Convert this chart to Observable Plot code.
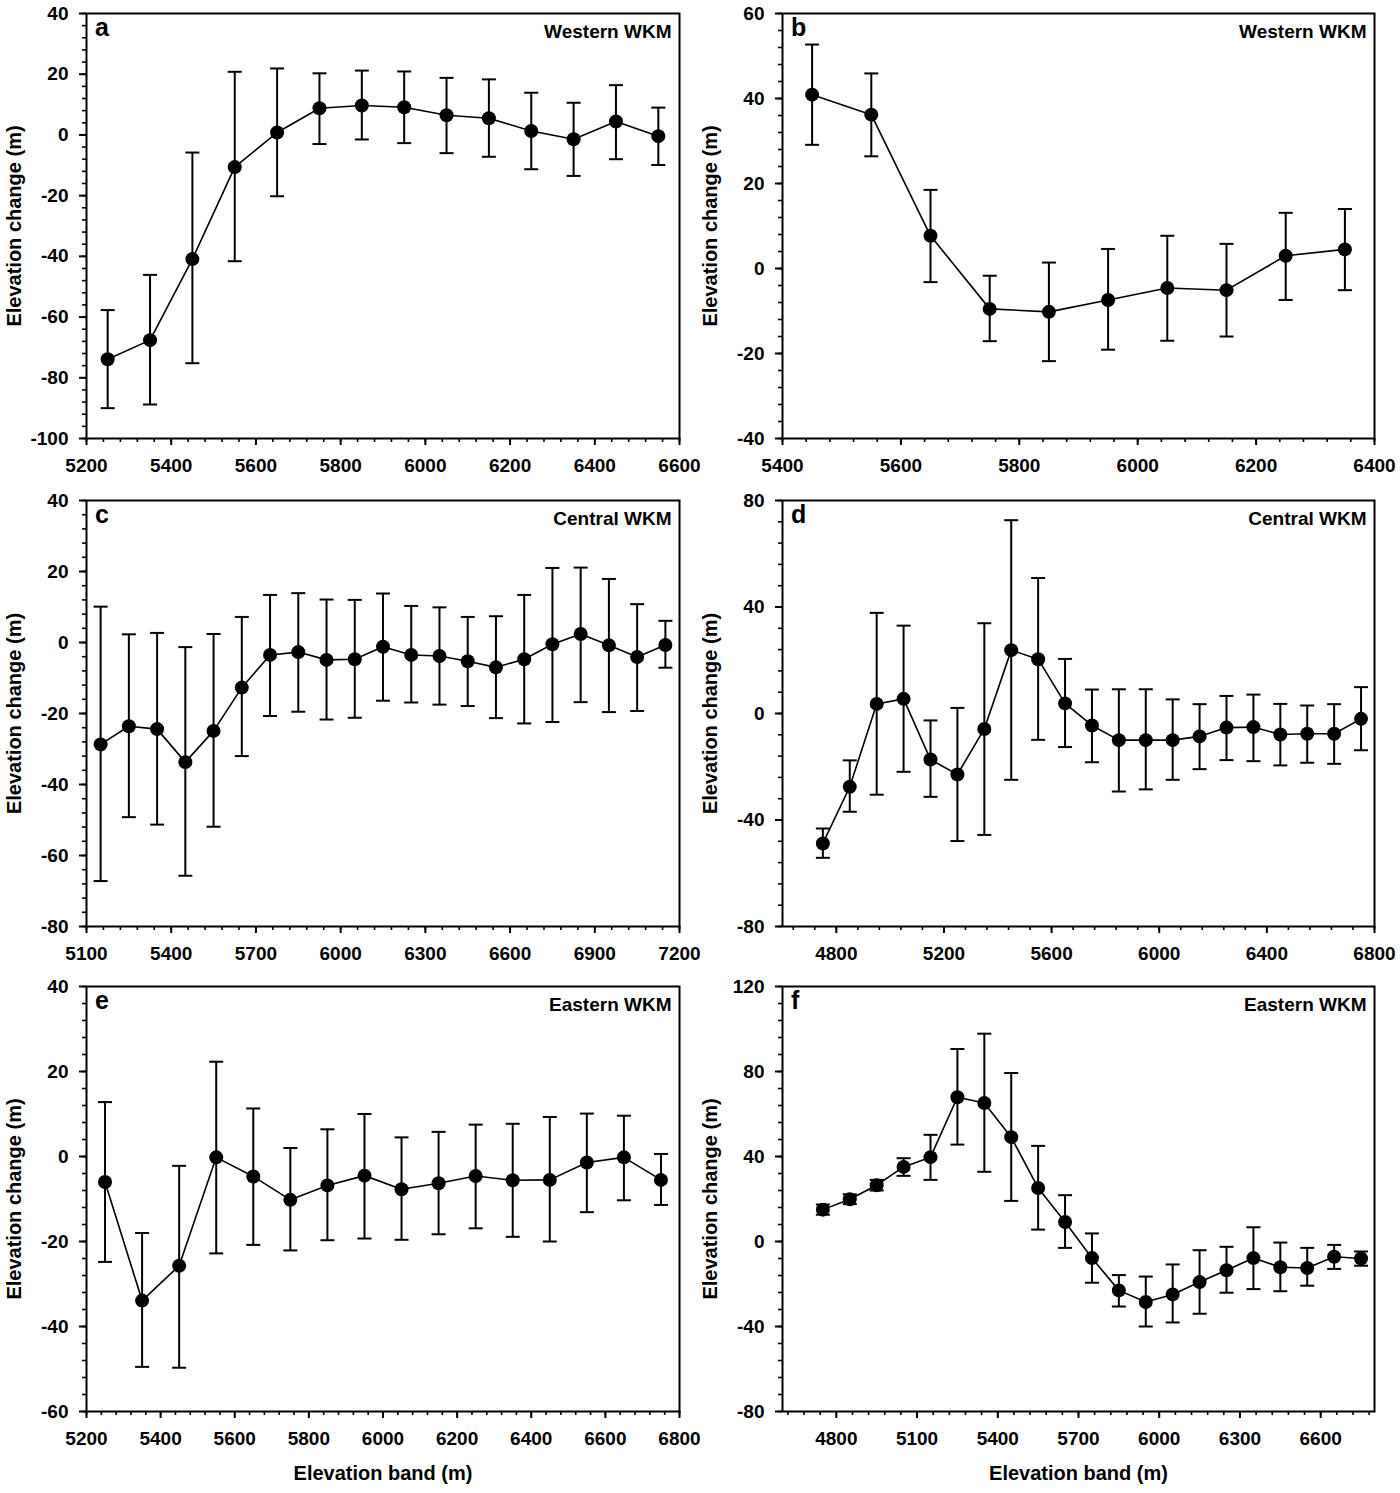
<!DOCTYPE html>
<html>
<head>
<meta charset="utf-8">
<script src="https://cdn.jsdelivr.net/npm/d3@7"></script>
<script src="https://cdn.jsdelivr.net/npm/@observablehq/plot@0.6"></script>
<style>
  body { margin: 0; background: #fff; }
  #fig { position: relative; width: 1400px; height: 1493px; background: #fff; overflow: hidden; }
  .panel { position: absolute; width: 700px; }
  .panel svg { overflow: visible; background: transparent !important; }
</style>
</head>
<body>
<div id="fig"></div>
<script>
// ---------- Data ----------
// Panel a – Western WKM
const bandsA  = [5250,5350,5450,5550,5650,5750,5850,5950,6050,6150,6250,6350,6450,6550];
const changeA = [-73.9,-67.6,-40.9,-10.6,0.8,8.8,9.7,9.1,6.5,5.5,1.3,-1.4,4.4,-0.4];
const upperA  = [-57.7,-46.1,-5.8,20.8,21.9,20.3,21.2,20.9,18.8,18.3,13.9,10.6,16.4,9.0];
const lowerA  = [-90.0,-88.8,-75.2,-41.6,-20.2,-3.0,-1.5,-2.7,-6.0,-7.2,-11.3,-13.5,-8.0,-9.9];

// Panel b – Western WKM
const bandsB  = [5450,5550,5650,5750,5850,5950,6050,6150,6250,6350];
const changeB = [40.9,36.2,7.7,-9.5,-10.2,-7.4,-4.6,-5.1,3.0,4.5];
const upperB  = [52.7,45.9,18.5,-1.7,1.4,4.6,7.7,5.8,13.1,14.0];
const lowerB  = [29.1,26.4,-3.2,-17.1,-21.8,-19.1,-17.0,-16.0,-7.4,-5.1];

// Panel c – Central WKM
const bandsC  = [5150,5250,5350,5450,5550,5650,5750,5850,5950,6050,6150,6250,6350,6450,6550,6650,6750,6850,6950,7050,7150];
const changeC = [-28.7,-23.6,-24.4,-33.7,-24.9,-12.7,-3.5,-2.7,-4.9,-4.7,-1.2,-3.5,-3.8,-5.3,-7.0,-4.7,-0.5,2.4,-0.8,-4.1,-0.7];
const upperC  = [10.1,2.3,2.7,-1.3,2.4,7.2,13.4,13.9,12.1,12.0,13.8,10.3,9.9,7.2,7.4,13.4,21.0,21.1,17.9,10.8,6.1];
const lowerC  = [-67.2,-49.2,-51.3,-65.7,-51.9,-32.0,-20.7,-19.5,-21.7,-21.2,-16.4,-16.9,-17.5,-17.9,-21.3,-22.8,-22.4,-16.8,-19.6,-19.3,-7.1];

// Panel d – Central WKM
const bandsD  = [4750,4850,4950,5050,5150,5250,5350,5450,5550,5650,5750,5850,5950,6050,6150,6250,6350,6450,6550,6650,6750];
const changeD = [-48.8,-27.5,3.6,5.5,-17.3,-22.9,-5.8,23.8,20.4,3.8,-4.5,-10.0,-10.0,-10.0,-8.6,-5.3,-5.1,-7.9,-7.6,-7.6,-2.0];
const upperD  = [-43.2,-17.6,37.8,33.0,-2.6,2.1,33.9,72.6,50.9,20.5,9.0,9.1,9.1,5.3,3.5,6.6,7.1,3.6,3.0,3.5,9.9];
const lowerD  = [-54.2,-36.9,-30.5,-21.9,-31.3,-47.9,-45.6,-24.9,-9.9,-12.6,-18.3,-29.3,-28.5,-24.9,-20.9,-17.5,-17.9,-19.5,-18.5,-18.9,-13.8];

// Panel e – Eastern WKM
const bandsE  = [5250,5350,5450,5550,5650,5750,5850,5950,6050,6150,6250,6350,6450,6550,6650,6750];
const changeE = [-6.0,-33.9,-25.7,-0.2,-4.7,-10.2,-6.8,-4.5,-7.7,-6.3,-4.6,-5.6,-5.5,-1.4,-0.2,-5.5];
const upperE  = [12.8,-18.0,-2.2,22.3,11.3,2.0,6.4,10.0,4.5,5.8,7.5,7.7,9.3,10.1,9.6,0.6];
const lowerE  = [-24.8,-49.5,-49.7,-22.8,-20.8,-22.1,-19.7,-19.3,-19.6,-18.3,-16.9,-18.9,-20.0,-13.1,-10.3,-11.4];

// Panel f – Eastern WKM
const bandsF  = [4750,4850,4950,5050,5150,5250,5350,5450,5550,5650,5750,5850,5950,6050,6150,6250,6350,6450,6550,6650,6750];
const changeF = [15.0,19.9,26.5,35.1,39.7,67.9,65.2,49.1,25.2,9.2,-7.8,-23.0,-28.5,-24.9,-19.1,-13.5,-7.8,-12.1,-12.5,-7.2,-8.0];
const upperF  = [17.4,22.2,29.0,39.2,50.2,90.6,97.8,79.3,45.0,21.8,3.8,-15.8,-16.5,-10.8,-4.1,-2.5,6.7,-0.5,-3.0,-1.6,-4.7];
const lowerF  = [12.6,17.6,24.0,30.9,29.0,45.6,32.8,19.1,5.6,-3.0,-19.4,-30.6,-40.0,-38.1,-34.0,-24.1,-22.4,-23.4,-20.8,-12.9,-11.4];

// Tick labels
const xTicksA = [5200,5400,5600,5800,6000,6200,6400,6600];
const xTicksB = [5400,5600,5800,6000,6200,6400];
const xTicksC = [5100,5400,5700,6000,6300,6600,6900,7200];
const xTicksD = [4800,5200,5600,6000,6400,6800];
const xTicksE = [5200,5400,5600,5800,6000,6200,6400,6600,6800];
const xTicksF = [4800,5100,5400,5700,6000,6300,6600];
const yTicksA = [-100,-80,-60,-40,-20,0,20,40];
const yTicksB = [-40,-20,0,20,40,60];
const yTicksC = [-80,-60,-40,-20,0,20,40];
const yTicksD = [-80,-40,0,40,80];
const yTicksE = [-60,-40,-20,0,20,40];
const yTicksF = [-80,-40,0,40,80,120];

const regionNames = ["Western WKM","Western WKM","Central WKM","Central WKM","Eastern WKM","Eastern WKM"];
const panelLetters = ["a","b","c","d","e","f"];
const yTitle = "Elevation change (m)";
const xTitle = "Elevation band (m)";

// ---------- Panel setup ----------
const panels = [
  {bands:bandsA, change:changeA, upper:upperA, lower:lowerA, xDomain:[5200,6600], xTicks:xTicksA, xMinor:[5200,40], yDomain:[-100,40], yTicks:yTicksA, yMinor:4, col:0, row:0},
  {bands:bandsB, change:changeB, upper:upperB, lower:lowerB, xDomain:[5400,6400], xTicks:xTicksB, xMinor:[5400,40], yDomain:[-40,60],  yTicks:yTicksB, yMinor:4, col:1, row:0},
  {bands:bandsC, change:changeC, upper:upperC, lower:lowerC, xDomain:[5100,7200], xTicks:xTicksC, xMinor:[5100,60], yDomain:[-80,40],  yTicks:yTicksC, yMinor:4, col:0, row:1},
  {bands:bandsD, change:changeD, upper:upperD, lower:lowerD, xDomain:[4600,6800], xTicks:xTicksD, xMinor:[4640,80], yDomain:[-80,80],  yTicks:yTicksD, yMinor:8, col:1, row:1},
  {bands:bandsE, change:changeE, upper:upperE, lower:lowerE, xDomain:[5200,6800], xTicks:xTicksE, xMinor:[5200,40], yDomain:[-60,40],  yTicks:yTicksE, yMinor:4, col:0, row:2},
  {bands:bandsF, change:changeF, upper:upperF, lower:lowerF, xDomain:[4600,6800], xTicks:xTicksF, xMinor:[4620,60], yDomain:[-80,120], yTicks:yTicksF, yMinor:8, col:1, row:2}
];

const colLeft = [0, 697];
const colMargins = [[86, 21], [85, 23]];
const rowTop = [0, 486, 972];
const rowHeight = [486, 486, 521];
const rowMarginTop = [13, 14, 14];
const rowMarginBottom = [48, 46, 82];

const capSymbol = {
  draw(context, size) {
    const h = Math.sqrt(size / Math.PI);
    context.moveTo(-h, 0);
    context.lineTo(h, 0);
  }
};

const fig = document.getElementById("fig");
const FONT = "'Liberation Sans', Arial, Helvetica, sans-serif";

panels.forEach((p, i) => {
  const rows = p.bands.map((b, k) => ({band: b, change: p.change[k], hi: p.upper[k], lo: p.lower[k]}));
  const xMinorTicks = d3.range(p.xMinor[0], p.xDomain[1] + 1e-6, p.xMinor[1]);
  const yMinorTicks = d3.range(p.yDomain[0], p.yDomain[1] + 1e-6, p.yMinor);
  const fmt = d => String(d);
  const marks = [
    Plot.frame({stroke: "black", strokeWidth: 2}),
    Plot.axisX(xMinorTicks, {anchor: "bottom", tickSize: 4, strokeWidth: 1.6, tickFormat: () => "", label: null}),
    Plot.axisX(p.xTicks, {anchor: "bottom", tickSize: 7, tickPadding: 13, strokeWidth: 2, tickFormat: fmt, label: null, fontSize: 19, fontWeight: "bold"}),
    Plot.axisY(yMinorTicks, {anchor: "left", tickSize: 4, strokeWidth: 1.6, tickFormat: () => "", label: null}),
    Plot.axisY(p.yTicks, {anchor: "left", tickSize: 7, tickPadding: 11, strokeWidth: 2, tickFormat: fmt, label: null, fontSize: 19, fontWeight: "bold"}),
    Plot.ruleX(rows, {x: "band", y1: "lo", y2: "hi", stroke: "black", strokeWidth: 2}),
    Plot.dot(rows, {x: "band", y: "hi", symbol: capSymbol, r: 7, stroke: "black", strokeWidth: 2, fill: "none"}),
    Plot.dot(rows, {x: "band", y: "lo", symbol: capSymbol, r: 7, stroke: "black", strokeWidth: 2, fill: "none"}),
    Plot.line(rows, {x: "band", y: "change", stroke: "black", strokeWidth: 1.6}),
    Plot.dot(rows, {x: "band", y: "change", r: 7, fill: "black", stroke: "none"}),
    Plot.text([panelLetters[i]], {frameAnchor: "top-left", textAnchor: "start", lineAnchor: "top", dx: 8.5, dy: 5, fontSize: 25, fontWeight: "bold", fill: "black"}),
    Plot.text([regionNames[i]], {frameAnchor: "top-right", textAnchor: "end", lineAnchor: "top", dx: -8, dy: 11, fontSize: 19, fontWeight: "bold", fill: "black"}),
    Plot.text([yTitle], {frameAnchor: "left", textAnchor: "middle", lineAnchor: "middle", rotate: -90, dx: -72, fontSize: 20, fontWeight: "bold", fill: "black"})
  ];
  if (p.row === 2) {
    marks.push(Plot.text([xTitle], {frameAnchor: "bottom", textAnchor: "middle", lineAnchor: "middle", dy: 62, fontSize: 20, fontWeight: "bold", fill: "black"}));
  }
  const chart = Plot.plot({
    width: 700,
    height: rowHeight[p.row],
    marginLeft: colMargins[p.col][0],
    marginRight: colMargins[p.col][1],
    marginTop: rowMarginTop[p.row],
    marginBottom: rowMarginBottom[p.row],
    style: `font-family: ${FONT}; font-weight: bold; color: black; background: transparent; overflow: visible;`,
    x: {domain: p.xDomain, label: null},
    y: {domain: p.yDomain, label: null},
    marks
  });
  const holder = document.createElement("div");
  holder.className = "panel";
  holder.style.left = colLeft[p.col] + "px";
  holder.style.top = rowTop[p.row] + "px";
  holder.appendChild(chart);
  fig.appendChild(holder);
});
</script>
</body>
</html>
